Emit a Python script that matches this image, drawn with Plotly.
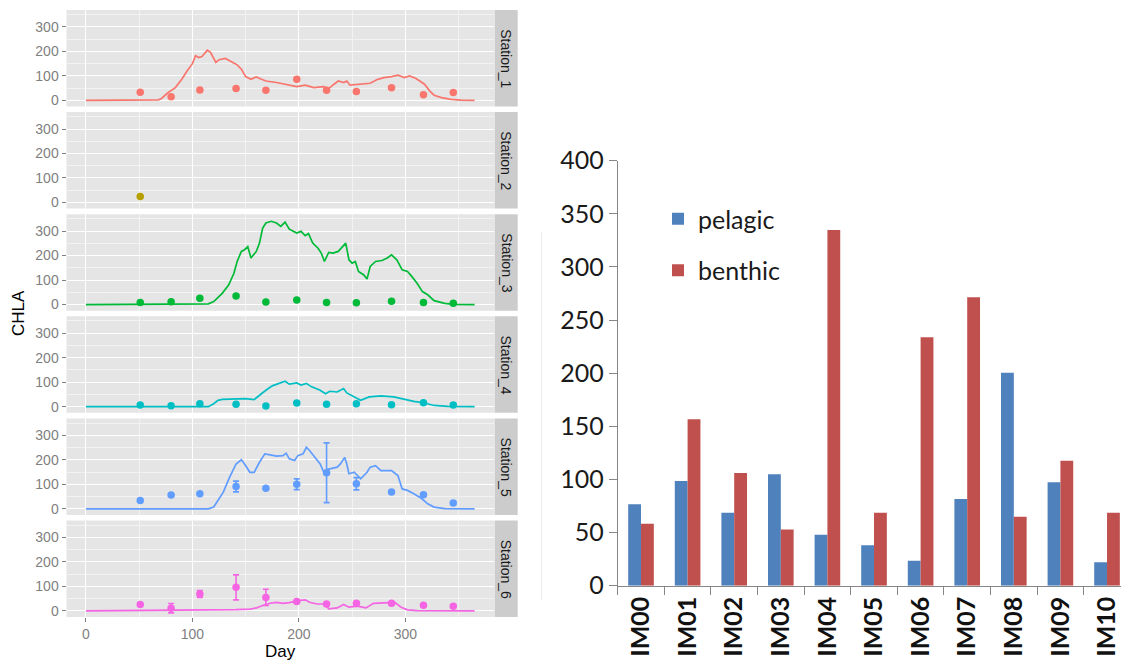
import plotly.graph_objects as go

W, H = 1121, 662

# ---------------- data: modelled vs observed CHLA per station ----------------
stations = ["Station_1", "Station_2", "Station_3", "Station_4", "Station_5", "Station_6"]
station_colors = ["#F8766D", "#B79F00", "#00BA38", "#00BFC4", "#619CFF", "#F564E3"]

obs_day = [51, 80, 107, 141, 169, 198, 226, 254, 287, 317, 345]

s1_day = [0, 62, 68, 71, 77, 84, 90, 95, 100, 103, 106, 109, 114, 117, 122, 125, 131, 138,
          142, 146, 150, 155, 160, 165, 169, 179, 188, 198, 206, 214, 223, 228, 233, 237,
          242, 245, 248, 258, 267, 274, 280, 287, 293, 299, 304, 310, 315, 318, 323, 327,
          334, 343, 352, 365]
s1_val = [0, 0, 2, 8, 31, 52, 86, 120, 150, 182, 175, 179, 205, 196, 155, 166, 171, 155,
          145, 127, 97, 86, 96, 86, 79, 73, 66, 56, 62, 52, 56, 48, 66, 79,
          73, 79, 62, 66, 70, 86, 93, 97, 103, 93, 100, 89, 73, 66, 38, 21,
          11, 4, 1, 0]
s1_obs = [33, 15, 42, 48, 41, 86, 41, 36, 52, 23, 32]
s1_err = [0, 0, 0, 0, 0, 0, 0, 0, 0, 0, 0]

s2_obs_day = [51]
s2_obs = [24]
s2_err = [0]

s3_day = [0, 60, 105, 115, 120, 128, 134, 139, 142, 146, 149, 152, 155, 160, 163, 166, 169,
          174, 179, 183, 187, 191, 198, 202, 206, 209, 213, 218, 221, 224, 228, 232, 237,
          242, 244, 247, 250, 253, 256, 261, 264, 267, 272, 278, 283, 287, 292, 297, 302,
          306, 311, 316, 321, 327, 337, 346, 365]
s3_val = [0, 1, 2, 3, 12, 46, 80, 128, 176, 217, 224, 237, 190, 217, 251, 312, 333,
          340, 333, 319, 337, 308, 292, 299, 281, 290, 251, 230, 210, 176, 213, 210, 217,
          244, 251, 183, 169, 176, 135, 121, 104, 156, 176, 180, 190, 203, 183, 142, 135,
          115, 87, 53, 40, 16, 5, 1, 0]
s3_obs = [8, 12, 26, 35, 11, 19, 8, 7, 14, 8, 5]
s3_err = [0, 0, 0, 5, 0, 0, 0, 0, 0, 0, 0]

s4_day = [0, 115, 120, 124, 128, 141, 150, 158, 163, 169, 175, 182, 187, 191, 198, 202, 207,
          212, 220, 225, 229, 236, 242, 245, 252, 258, 266, 277, 289, 299, 308, 318, 327,
          340, 365]
s4_val = [0, 0, 12, 26, 30, 33, 33, 29, 47, 67, 85, 95, 104, 92, 97, 88, 95,
          81, 67, 53, 63, 60, 74, 56, 40, 26, 40, 44, 40, 30, 22, 15, 5,
          1, 0]
s4_obs = [7, 4, 12, 10, 3, 15, 10, 12, 8, 16, 7]
s4_err = [0, 0, 0, 0, 0, 0, 0, 0, 0, 0, 0]

s5_day = [0, 115, 120, 124, 129, 135, 141, 146, 149, 154, 158, 163, 168, 173, 179, 185, 188,
          191, 196, 199, 204, 207, 210, 215, 220, 224, 226, 229, 236, 239, 243, 245, 247,
          252, 258, 264, 267, 272, 277, 287, 293, 297, 302, 308, 315, 321, 327, 337, 365]
s5_val = [0, 0, 7, 34, 68, 129, 183, 200, 183, 149, 149, 190, 224, 220, 215, 217, 227,
          204, 197, 217, 224, 251, 238, 210, 183, 143, 160, 163, 170, 183, 210, 183, 143,
          149, 122, 149, 170, 176, 156, 156, 136, 81, 75, 61, 43, 20, 7, 1, 0]
s5_obs = [34, 56, 61, 91, 84, 100, 147, 102, 69, 57, 24]
s5_err = [0, 0, 0, 22, 0, 22, 122, 25, 0, 5, 0]

s6_day = [0, 130, 141, 154, 160, 166, 173, 179, 185, 191, 199, 206, 210, 217, 225, 228, 236,
          242, 247, 255, 263, 270, 280, 290, 296, 302, 311, 365]
s6_val = [0, 2, 5, 7, 12, 22, 31, 35, 31, 34, 42, 45, 35, 28, 28, 8, 12,
          26, 15, 19, 12, 31, 32, 35, 15, 4, 1, 0]
s6_obs = [26, 11, 69, 96, 55, 38, 28, 31, 31, 23, 19]
s6_err = [0, 19, 14, 51, 33, 6, 4, 5, 6, 0, 0]

# ---------------- data: pelagic vs benthic per site ----------------
sites = ["IM00", "IM01", "IM02", "IM03", "IM04", "IM05", "IM06", "IM07", "IM08", "IM09", "IM10"]
pelagic = [76.6, 98.5, 68.7, 104.8, 48, 38, 23.5, 81.6, 200.5, 97.3, 22]
benthic = [58.4, 156.6, 106, 53, 334.8, 68.7, 233.8, 271.4, 65, 117.6, 68.7]

model_series = [
    (s1_day, s1_val, obs_day, s1_obs, s1_err),
    (None, None, s2_obs_day, s2_obs, s2_err),
    (s3_day, s3_val, obs_day, s3_obs, s3_err),
    (s4_day, s4_val, obs_day, s4_obs, s4_err),
    (s5_day, s5_val, obs_day, s5_obs, s5_err),
    (s6_day, s6_val, obs_day, s6_obs, s6_err),
]

# ---------------- geometry helpers (pixels -> paper) ----------------
def px_x(p):
    return p / W

def px_y(p):
    return 1 - p / H

PANEL_L, PANEL_R = 66.5, 494.0
STRIP_L, STRIP_R = 494.5, 517.7
PANEL_TOP0, PANEL_STEP, PANEL_H = 10.0, 102.1, 96.5

fig = go.Figure()
shapes = []
annotations = []
layout_axes = {}

gg_font = "Liberation Sans, Arial, sans-serif"

for i, (name, col, ser) in enumerate(zip(stations, station_colors, model_series)):
    n = i + 1
    xa = "x" if n == 1 else f"x{n}"
    ya = "y" if n == 1 else f"y{n}"
    line_day, line_val, o_day, o_val, o_err = ser
    if line_day is not None:
        fig.add_trace(go.Scatter(
            x=line_day, y=line_val, mode="lines", xaxis=xa, yaxis=ya,
            line=dict(color=col, width=1.7), showlegend=False, hoverinfo="skip"))
    fig.add_trace(go.Scatter(
        x=o_day, y=o_val, mode="markers", xaxis=xa, yaxis=ya,
        marker=dict(color=col, size=7.5),
        error_y=dict(type="data", array=o_err, color=col, thickness=1.6, width=3),
        showlegend=False, hoverinfo="skip"))

    top = PANEL_TOP0 + PANEL_STEP * i
    bot = top + PANEL_H
    bottom_panel = (n == len(stations))
    layout_axes["xaxis" if n == 1 else f"xaxis{n}"] = dict(
        domain=[px_x(PANEL_L), px_x(PANEL_R)], range=[-18.25, 383.25], anchor=ya,
        automargin=False,
        showgrid=True, gridcolor="white", gridwidth=1.2, zeroline=False,
        tickmode="array", tickvals=[0, 100, 200, 300],
        showticklabels=bottom_panel, ticks="outside" if bottom_panel else "",
        ticklen=4, tickwidth=1, tickcolor="#7F7F7F",
        tickfont=dict(family=gg_font, size=14, color="#7F7F7F"),
        minor=dict(showgrid=True, gridcolor="#F2F2F2", gridwidth=0.6,
                   tickmode="array", tickvals=[50, 150, 250, 350]),
        showline=False,
    )
    layout_axes["yaxis" if n == 1 else f"yaxis{n}"] = dict(
        domain=[px_y(bot), px_y(top)], range=[-25, 369], anchor=xa,
        automargin=False,
        showgrid=True, gridcolor="white", gridwidth=1.2, zeroline=False,
        tickmode="array", tickvals=[0, 100, 200, 300],
        ticks="outside", ticklen=4, tickwidth=1, tickcolor="#7F7F7F",
        tickfont=dict(family=gg_font, size=14, color="#7F7F7F"),
        minor=dict(showgrid=True, gridcolor="#F2F2F2", gridwidth=0.6,
                   tickmode="array", tickvals=[50, 150, 250, 350]),
        showline=False,
    )
    # grey panel background and facet strip
    shapes.append(dict(type="rect", xref="paper", yref="paper", layer="below",
                       x0=px_x(PANEL_L), x1=px_x(PANEL_R), y0=px_y(bot), y1=px_y(top),
                       fillcolor="#E5E5E5", line=dict(width=0)))
    shapes.append(dict(type="rect", xref="paper", yref="paper", layer="below",
                       x0=px_x(STRIP_L), x1=px_x(STRIP_R), y0=px_y(bot), y1=px_y(top),
                       fillcolor="#CCCCCC", line=dict(width=0)))
    annotations.append(dict(text=name, textangle=90, showarrow=False,
                            xref="paper", yref="paper",
                            x=px_x((STRIP_L + STRIP_R) / 2), y=px_y((top + bot) / 2),
                            xanchor="center", yanchor="middle",
                            font=dict(family=gg_font, size=14, color="#1A1A1A")))

annotations.append(dict(text="CHLA", textangle=-90, showarrow=False, xref="paper", yref="paper",
                        x=px_x(18), y=px_y(313), xanchor="center", yanchor="middle",
                        font=dict(family=gg_font, size=17, color="black")))
annotations.append(dict(text="Day", showarrow=False, xref="paper", yref="paper",
                        x=px_x((PANEL_L + PANEL_R) / 2), y=px_y(651), xanchor="center",
                        yanchor="middle", font=dict(family=gg_font, size=17, color="black")))

# ---------------- bar chart ----------------
bar_font = "Lato, Open Sans, sans-serif"
fig.add_trace(go.Bar(x=sites, y=pelagic, name="pelagic", marker=dict(color="#4F81BD", line=dict(width=0)),
                     xaxis="x7", yaxis="y7", legendgroup="p", hoverinfo="skip"))
fig.add_trace(go.Bar(x=sites, y=benthic, name="benthic", marker=dict(color="#C0504D", line=dict(width=0)),
                     xaxis="x7", yaxis="y7", legendgroup="b", hoverinfo="skip"))

layout_axes["xaxis7"] = dict(
    domain=[px_x(617.7), 1.0], anchor="y7", type="category", range=[-0.5, 10.3],
    automargin=False,
    showgrid=False, zeroline=False, showline=True, linecolor="#868686", linewidth=1,
    ticks="outside", tickson="boundaries", ticklen=8, tickcolor="#868686", tickwidth=1,
    tickangle=-90, tickfont=dict(family=bar_font, size=25, color="#111111", weight="bold"),
)
layout_axes["yaxis7"] = dict(
    domain=[px_y(585.7), px_y(160.7)], anchor="x7", range=[0, 400], dtick=50,
    automargin=False,
    showgrid=False, zeroline=False, showline=True, linecolor="#868686", linewidth=1,
    ticks="outside", ticklen=8, tickcolor="#868686", tickwidth=1,
    tickfont=dict(family=bar_font, size=25, color="#1A1A1A"),
)

# faint separator line at the left of the bar chart
shapes.append(dict(type="line", xref="paper", yref="paper", x0=px_x(541.5), x1=px_x(541.5),
                   y0=px_y(232), y1=px_y(600), line=dict(color="#EDEDED", width=1)))

fig.update_layout(
    width=W, height=H, margin=dict(l=0, r=0, t=0, b=0),
    paper_bgcolor="white", plot_bgcolor="rgba(0,0,0,0)",
    barmode="group", bargap=0.45, bargroupgap=0,
    showlegend=True,
    legend=dict(x=px_x(658), y=px_y(196), xanchor="left", yanchor="top",
                bgcolor="rgba(0,0,0,0)", tracegroupgap=16, traceorder="grouped",
                itemwidth=30,
                font=dict(family=bar_font, size=25, color="#1A1A1A")),
    shapes=shapes, annotations=annotations,
    **layout_axes,
)

fig.write_html("out.html")
